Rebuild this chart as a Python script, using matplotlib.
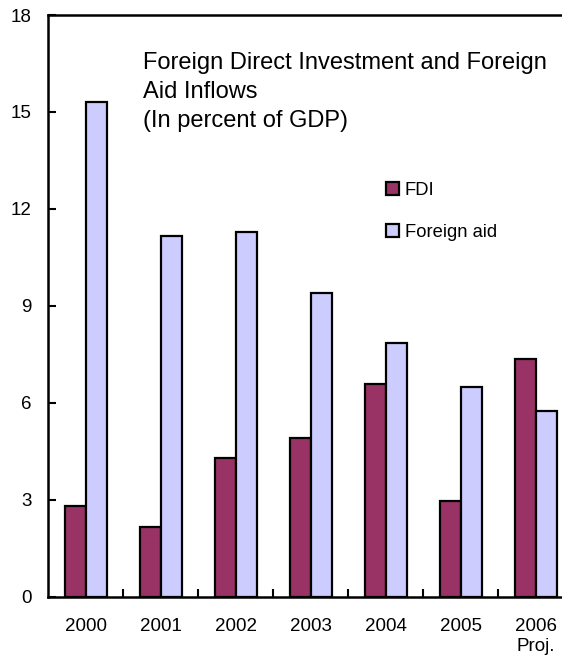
import numpy as np
from matplotlib import pyplot as plt
from matplotlib.ticker import FixedLocator

plt.rcParams['font.family'] = ['Liberation Sans', 'DejaVu Sans']

years = ["2000", "2001", "2002", "2003", "2004", "2005", "2006\nProj."]
fdi = [2.8, 2.15, 4.3, 4.9, 6.58, 2.97, 7.35]
aid = [15.32, 11.15, 11.27, 9.4, 7.86, 6.48, 5.76]

fig = plt.figure(figsize=(5.62, 6.57), dpi=100)
ax = fig.add_axes([48/562, 60.3/657, 525/562, 581.7/657])

x = np.arange(len(years))
w = 0.28
ax.bar(x - w/2, fdi, w, color="#993366", edgecolor="black", linewidth=1.6, label="FDI")
ax.bar(x + w/2, aid, w, color="#CCCCFF", edgecolor="black", linewidth=1.6, label="Foreign aid")

ax.set_xlim(-0.5, 6.5)
ax.set_ylim(0, 18)
ax.set_yticks(np.arange(0, 19, 3))
ax.set_xticks(x)
ax.set_xticklabels(years, linespacing=1.25)
ax.xaxis.set_minor_locator(FixedLocator(np.arange(0.5, 6, 1)))
ax.tick_params(axis="x", which="major", length=0, pad=15, labelsize=13.5)
ax.tick_params(axis="x", which="minor", direction="in", length=6, width=1.5)
ax.tick_params(axis="y", direction="in", length=6, width=1.5, pad=12, labelsize=13.5)

for s in ["left", "bottom", "top"]:
    ax.spines[s].set_linewidth(1.8)
ax.spines["right"].set_visible(False)

fig.text(143/562, 1 - 52/657, "Foreign Direct Investment and Foreign\nAid Inflows\n(In percent of GDP)",
         fontsize=17, va="top", ha="left", linespacing=1.42)

ax.legend(loc="upper left", bbox_to_anchor=(386/562, 1 - 182/657), bbox_transform=fig.transFigure,
          frameon=False, fontsize=13.2, handlelength=0.72, handleheight=0.72, handletextpad=0.3,
          labelspacing=1.38, borderpad=0, borderaxespad=0)

fig.savefig("out.png", dpi=100)
